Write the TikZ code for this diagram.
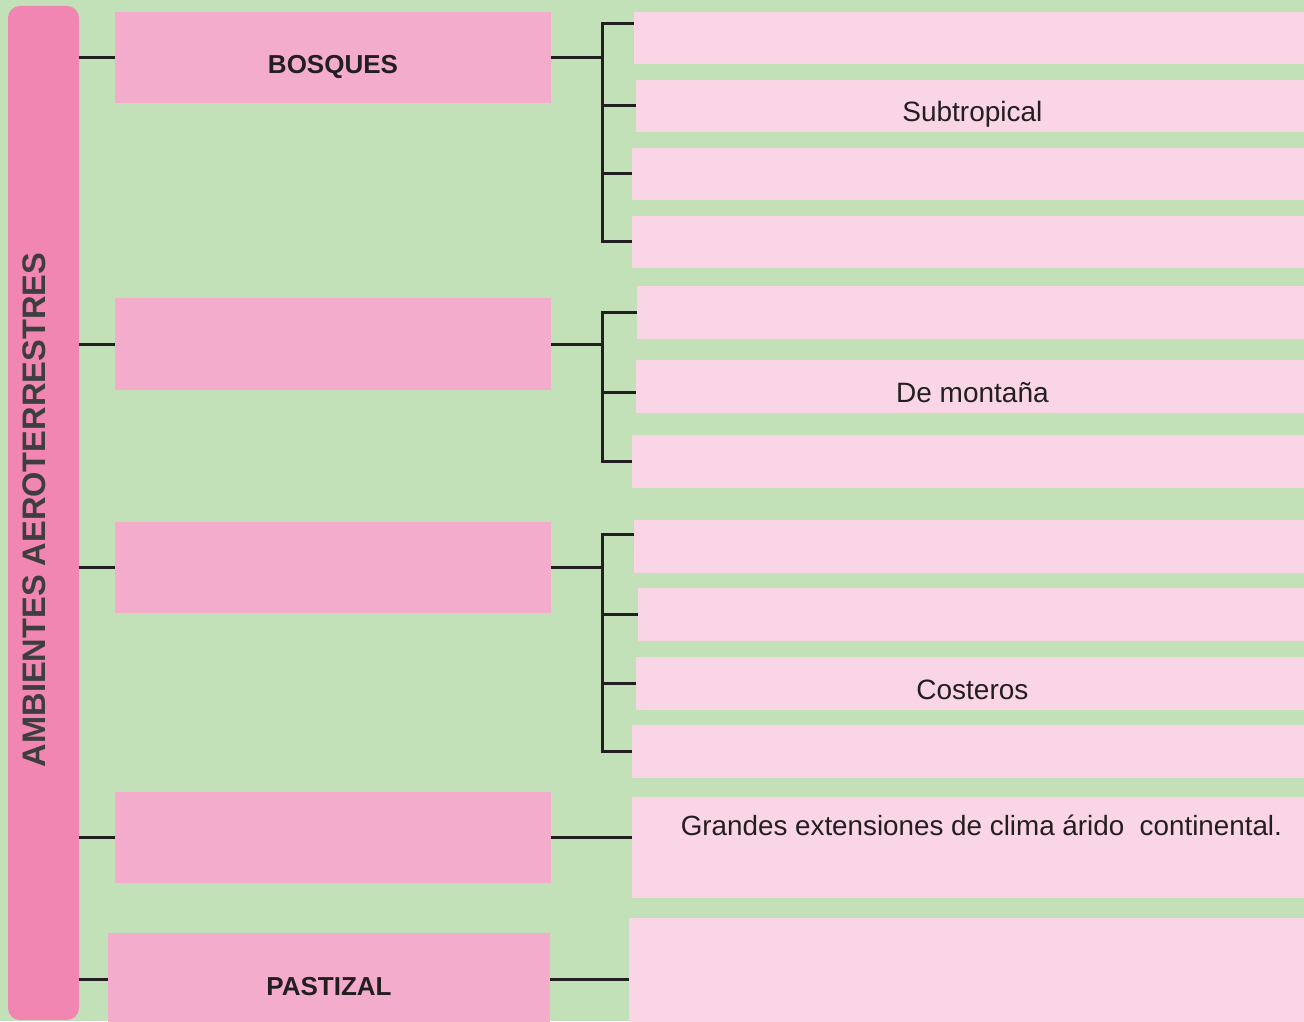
\documentclass[tikz,border=0pt]{standalone}
\usepackage{fontspec}
\setmainfont{Liberation Sans}
\definecolor{fondo}{HTML}{C3E1B8}
\definecolor{barra}{HTML}{F286B2}
\definecolor{rosa}{HTML}{F4ACCC}
\definecolor{rosaclaro}{HTML}{F9D5E5}
\definecolor{linea}{HTML}{231F20}
\definecolor{titulo}{HTML}{3E3E3E}

\begin{document}
\begin{tikzpicture}[x=0.5pt, y=-0.5pt,
    tema/.style={fill=rosa, minimum width=218pt, minimum height=45.5pt, inner sep=0pt,
        text height=16pt, text depth=0pt, text=linea, font=\bfseries\fontsize{13}{15}\selectfont},
    caja/.style={fill=rosaclaro, anchor=west, minimum width=336pt, minimum height=26.25pt,
        inner sep=0pt, text height=16pt, text depth=0pt, text=linea, font=\fontsize{14}{16}\selectfont},
    rama/.style={draw=linea, line width=1.5pt}]
\fill[fondo] (0,0) rectangle (1304,1021);
\useasboundingbox (0,0) rectangle (1304,1021);

% eje vertical
\node[fill=barra, rounded corners=6pt, minimum width=35.5pt, minimum height=507pt, inner sep=0pt] (eje) at (43.5,513) {};
\node[rotate=90, text=titulo, font=\bfseries\fontsize{16.3}{19}\selectfont] (nombre) at (34,510) {AMBIENTES AEROTERRESTRES};

% primer nivel
\node[tema] (b1) at (333,57.5) {BOSQUES};
\node[tema] (b2) at (333,344) {};
\node[tema] (b3) at (333,567) {};
\node[tema] (b4) at (333,837) {};
\node[tema, minimum width=221pt, minimum height=46pt] (b5) at (329,979) {PASTIZAL};

\foreach \b in {b1,b2,b3,b4,b5}
    \draw[rama] (eje.east |- \b.west) -- (\b.west);

% segundo nivel
\foreach \n/\x/\y/\t in {r11/634/38/{}, r12/636/106/Subtropical, r13/632/174/{}, r14/632/242/{},
        r21/637/312.5/{}, r22/636/386.5/{De montaña}, r23/632/461.5/{},
        r31/634/546.5/{}, r32/638/614.5/{}, r33/636/683.5/Costeros, r34/632/751.5/{}}
    \node[caja] (\n) at (\x,\y) {\t};
\node[caja, minimum height=50.5pt] (r4) at (632,847.5) {};
\node[caja, minimum width=340pt, minimum height=52pt] (r5) at (629,969.5) {};
\node[anchor=north, text=linea, font=\fontsize{13.9}{16}\selectfont] (nota) at ([xshift=6.5pt,yshift=-5.5pt]r4.north) {Grandes extensiones de clima árido~ continental.};

% conectores
\coordinate (j1) at (602,57.5);
\coordinate (j2) at (602,344);
\coordinate (j3) at (602,567);
\coordinate (t11) at ([yshift=7pt]r11.west);
\coordinate (t22) at ([yshift=-3pt]r22.west);
\coordinate (t31) at ([yshift=6pt]r31.west);

\draw[rama] (b1.east) -- (j1);
\draw[rama] (t11) -| (j1) |- (r14.west);
\draw[rama] (j1 |- r12.west) -- (r12.west);
\draw[rama] (j1 |- r13.west) -- (r13.west);

\draw[rama] (b2.east) -- (j2);
\draw[rama] (r21.west) -| (j2) |- (r23.west);
\draw[rama] (j2 |- t22) -- (t22);

\draw[rama] (b3.east) -- (j3);
\draw[rama] (t31) -| (j3) |- (r34.west);
\draw[rama] (j3 |- r32.west) -- (r32.west);
\draw[rama] (j3 |- r33.west) -- (r33.west);

\draw[rama] (b4.east) -- (b4.east -| r4.west);
\draw[rama] (b5.east) -- (b5.east -| r5.west);
\end{tikzpicture}
\end{document}
